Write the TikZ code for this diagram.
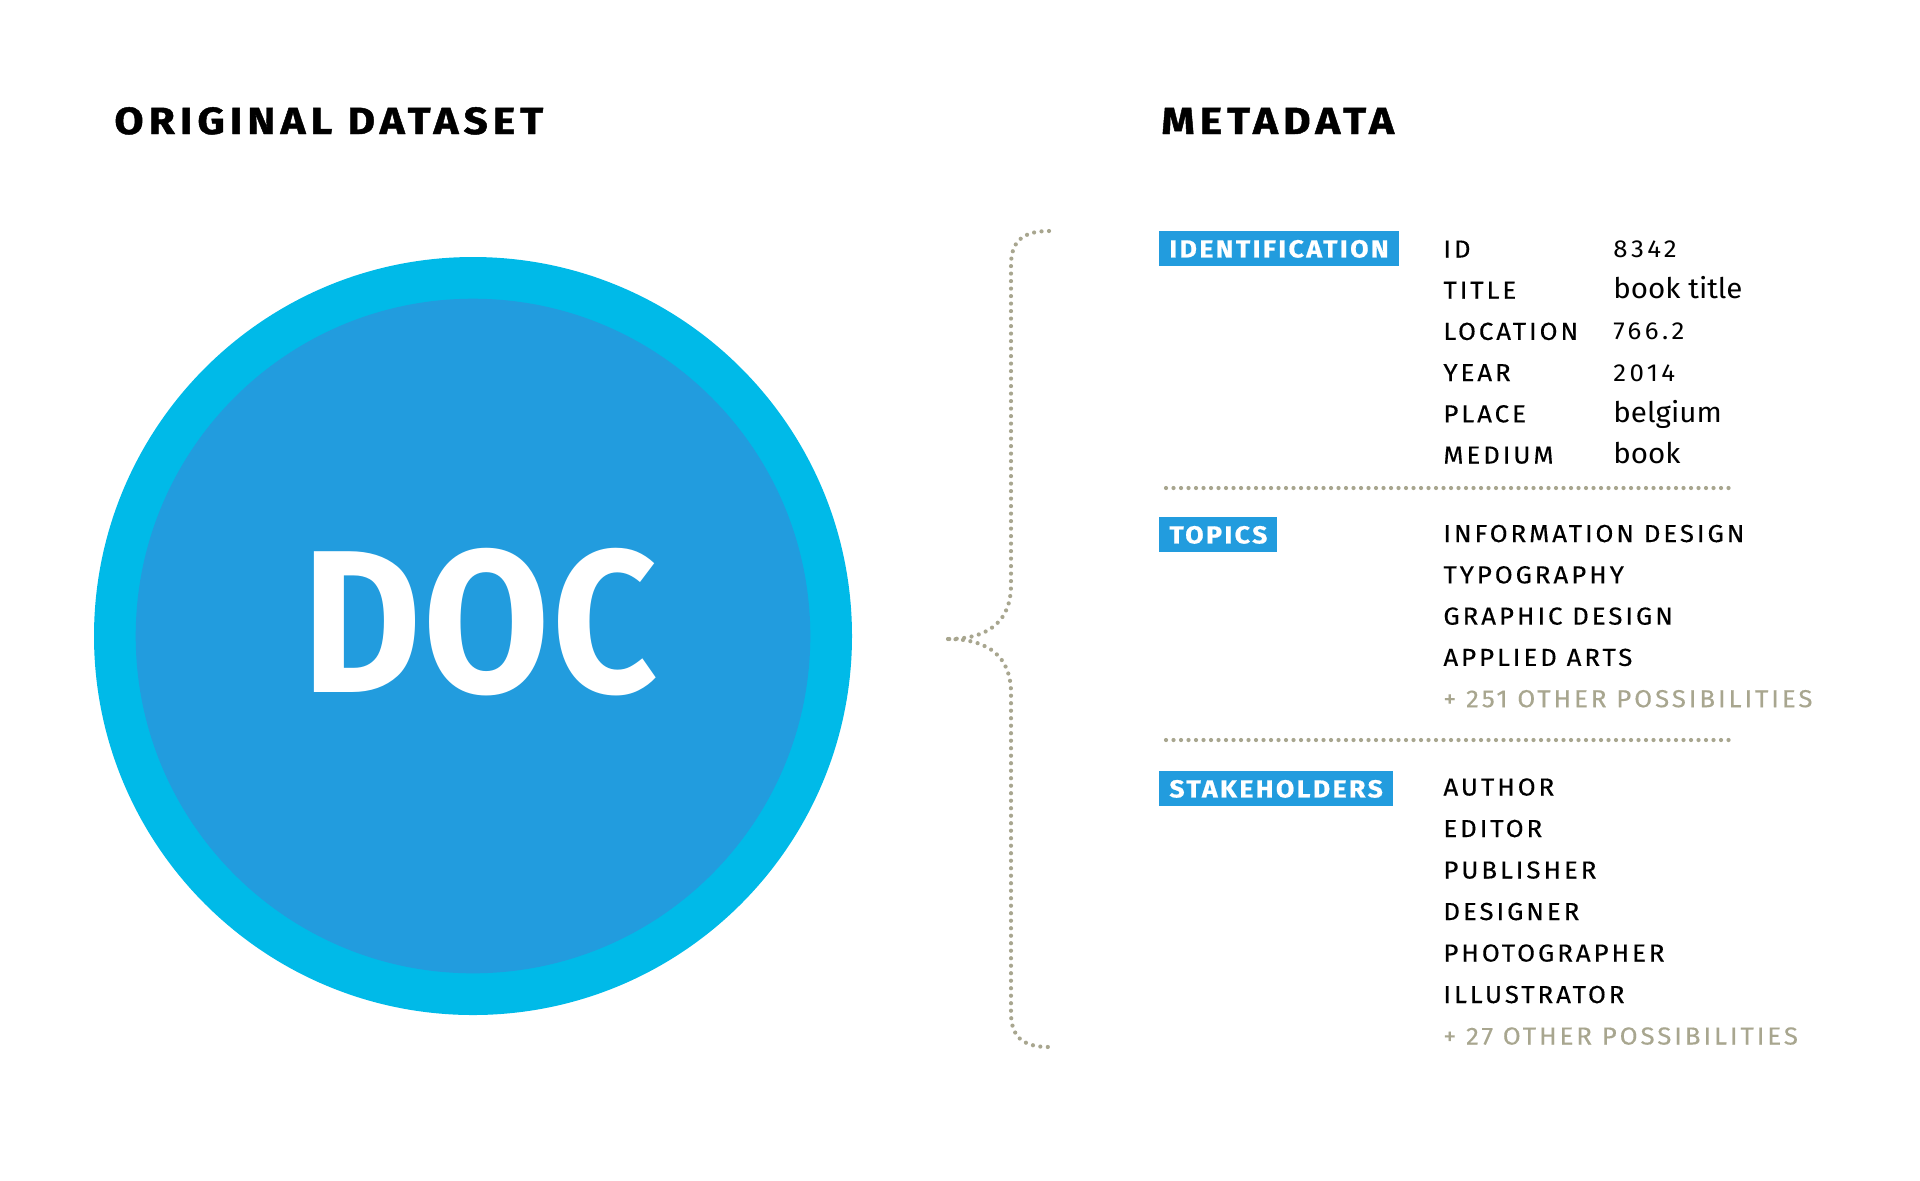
\documentclass[tikz,border=0pt]{standalone}
\usepackage{fontspec}
\setmainfont{Fira Sans}
\newfontfamily\headfont[LetterSpace=13.5,FakeStretch=1.12,FakeBold=1.2]{Fira Sans}
\newfontfamily\tagfont[LetterSpace=10,FakeStretch=1.08,FakeBold=0.8]{Fira Sans}
\newfontfamily\keyfont[LetterSpace=12,FakeStretch=1.05,FakeBold=0.3]{Fira Sans}
\newfontfamily\numfont[LetterSpace=14,FakeStretch=1.05]{Fira Sans}
\newfontfamily\valfont[FakeStretch=1.04]{Fira Sans}
\newfontfamily\docfont[FakeStretch=0.9,LetterSpace=1]{Fira Sans}
\definecolor{ringcyan}{HTML}{00BAE8}
\definecolor{coreblue}{HTML}{229CDE}
\definecolor{tagblue}{HTML}{229CDE}
\definecolor{dotgrey}{HTML}{A8A68F}
\begin{document}
\begin{tikzpicture}[x=0.5pt,y=-0.5pt,
  title/.style={anchor=base west, inner sep=0pt, font=\headfont\bfseries\fontsize{18.9}{20}\selectfont},
  tag/.style={anchor=north west, fill=tagblue, text=white, inner xsep=5pt, inner ysep=0pt,
    minimum height=17.5pt, text height=8.5pt, text depth=0pt,
    font=\tagfont\bfseries\fontsize{12.3}{14}\selectfont},
  key/.style={anchor=base west, inner sep=0pt, font=\keyfont\fontsize{12.3}{14}\selectfont},
  num/.style={anchor=base west, inner sep=0pt, font=\numfont\fontsize{12.3}{14}\selectfont},
  word/.style={anchor=base west, inner sep=0pt, font=\valfont\fontsize{14.2}{16}\selectfont},
  more/.style={key, text=dotgrey},
  dotline/.style={draw=dotgrey, line width=2.1pt, line cap=round, dash pattern=on 0pt off 3.75pt}]

\useasboundingbox (0,0) rectangle (1920,1180);

% headings
\node[title] (hOrig) at (114,134) {ORIGINAL DATASET};
\node[title] (hMeta) at (1161,134) {METADATA};

% document disc
\node[circle, fill=ringcyan, minimum size=379pt, inner sep=0pt] (ring) at (473,636) {};
\node[circle, fill=coreblue, minimum size=337.3pt, inner sep=0pt] (core) at (ring.center) {};
\node[anchor=base, inner sep=0pt, text=white, font=\docfont\bfseries\fontsize{101.6}{110}\selectfont] (doc) at (480,692) {DOC};

% curly brace made of dots
\coordinate (bTop) at (1049,231);
\coordinate (bTip) at (948,639);
\coordinate (bBot) at (1049,1047);
\draw[dotline] (bTop) .. controls (1022,231) and (1011,242) .. (1011,265) -- (1011,585)
  .. controls (1011,620) and (990,639) .. (bTip);
\draw[dotline] (bTip) .. controls (990,639) and (1011,658) .. (1011,693) -- (1011,1013)
  .. controls (1011,1036) and (1022,1047) .. (bBot);

% section tags
\node[tag] (tId) at (1159,231) {IDENTIFICATION};
\node[tag] (tTop) at (1159,517) {TOPICS};
\node[tag] (tSta) at (1159,771) {STAKEHOLDERS};

% identification rows
\node[key] (k1) at (1443,257.5) {ID};        \node[num]  (v1) at (1613,257.5) {8342};
\node[key] (k2) at (1443,298.7) {TITLE};     \node[word] (v2) at (1613,298.7) {book title};
\node[key] (k3) at (1443,339.9) {LOCATION};  \node[num]  (v3) at (1613,339.9) {766.2};
\node[key] (k4) at (1443,381.1) {YEAR};      \node[num]  (v4) at (1613,381.1) {2014};
\node[key] (k5) at (1443,422.3) {PLACE};     \node[word] (v5) at (1613,422.3) {belgium};
\node[key] (k6) at (1443,463.5) {MEDIUM};    \node[word] (v6) at (1613,463.5) {book};

% separators
\coordinate (s1a) at (1166,488); \coordinate (s1b) at (1733,488);
\coordinate (s2a) at (1166,740); \coordinate (s2b) at (1733,740);
\draw[dotline] (s1a) -- (s1b);
\draw[dotline] (s2a) -- (s2b);

% topics
\node[key]  (p1) at (1443,542) {INFORMATION DESIGN};
\node[key]  (p2) at (1443,583.3) {TYPOGRAPHY};
\node[key]  (p3) at (1443,624.6) {GRAPHIC DESIGN};
\node[key]  (p4) at (1443,665.9) {APPLIED ARTS};
\node[more] (p5) at (1443,707.2) {+ 251 OTHER POSSIBILITIES};

% stakeholders
\node[key]  (r1) at (1443,795.5) {AUTHOR};
\node[key]  (r2) at (1443,837) {EDITOR};
\node[key]  (r3) at (1443,878.5) {PUBLISHER};
\node[key]  (r4) at (1443,920) {DESIGNER};
\node[key]  (r5) at (1443,961.5) {PHOTOGRAPHER};
\node[key]  (r6) at (1443,1003) {ILLUSTRATOR};
\node[more] (r7) at (1443,1044.5) {+ 27 OTHER POSSIBILITIES};
\end{tikzpicture}
\end{document}
